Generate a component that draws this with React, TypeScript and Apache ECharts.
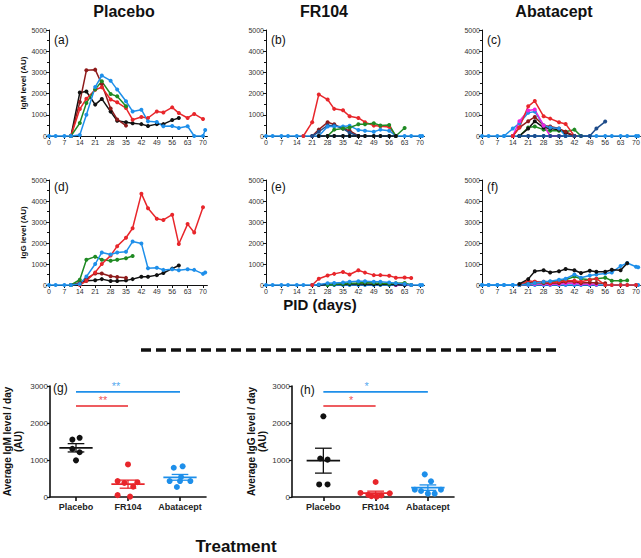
import React, { useEffect, useRef } from "react";
import * as echarts from "echarts";

const FONT = '"Liberation Sans", Arial, Helvetica, sans-serif';
const _ = null;

// sampling days (PID)
const DAYS = [0, 3, 7, 10, 14, 17, 21, 24, 28, 31, 35, 38, 42, 45, 49, 52, 56, 59, 63, 66, 70, 71];
const TICK_DAYS = [0, 7, 14, 21, 28, 35, 42, 49, 56, 63, 70];
const ZERO = DAYS.map(() => 0);

const RED = "#E8262B";
const BLUE = "#1E8FEA";
const GREEN = "#1F8A23";
const BLACK = "#111111";
const DARKRED = "#8E1B1B";
const NAVY = "#1E4C8A";
const MAGENTA = "#EE22DD";

// (a) IgM Placebo
const A_BLACK = [_, _, _, 0, 2050, 2100, 1480, 1750, 1150, 720, 650, 600, 560, 470, 560, 560, 750, 850, _, _, _, _];
const A_DARKRED = [_, _, _, 0, 1600, 3100, 3130, 2450, 1300, 780, 490, _, _, _, _, _, _, _, _, _, _, _];
const A_RED = [_, _, _, 0, 1270, 1760, 2180, 2300, 1720, 1590, 1320, 770, 900, 850, 1160, 1110, 1350, 1080, 850, 1040, 800, _];
const A_GREEN = [_, _, _, 0, 610, 1560, 2200, 2580, 1980, 1870, 1400, _, _, _, _, _, _, _, _, _, _, _];
const A_BLUE = [0, 0, 0, 0, 50, 1000, 2310, 2850, 2610, 2190, 1640, 1160, 1240, 690, 660, 460, 470, 380, 460, 0, 0, 280];

// (b) IgM FR104
const B_RED = [_, _, _, _, _, 0, 650, 1960, 1720, 1280, 1210, 930, 850, 650, 490, 460, 430, 0, _, _, _, _];
const B_DARKRED = [_, _, _, _, _, _, 0, 300, 650, 550, 350, 250, 0, _, _, _, _, _, _, _, _, _];
const B_NAVY = [_, _, _, _, _, _, 0, 200, 500, 500, 350, 150, 0, _, _, _, _, _, _, _, _, _];
const B_BLUE = [_, _, _, _, _, _, _, 0, 450, 450, 450, 480, 280, 250, 200, 300, 250, 0, _, _, _, _];
const B_GREEN = [_, _, _, _, _, _, _, _, 0, 300, 350, 400, 550, 550, 600, 500, 520, 0, 380, _, _, _];
const B_BLACK = [_, _, _, _, _, _, _, 0, 0, 0, 0, 0, 0, 0, 0, 0, 0, 0, _, _, _, _];

// (c) IgM Abatacept
const C_RED = [_, _, _, _, 0, 400, 1400, 1650, 930, 820, 650, 570, 0, _, _, _, _, _, _, _, _, _];
const C_MAGENTA = [_, _, _, _, 0, 700, 1200, 1250, 500, 0, 0, _, _, _, _, _, _, _, _, _, _, _];
const C_BLUE = [_, _, _, 0, 350, 600, 1100, 1150, 500, 400, 350, 0, _, _, _, _, _, _, _, _, _, _];
const C_DARKRED = [_, _, _, _, 0, 400, 700, 900, 500, 450, 350, 200, 0, _, _, _, _, _, _, _, _, _];
const C_BLACK = [_, _, _, _, _, 0, 350, 700, 400, 350, 300, 150, 0, _, _, _, _, _, _, _, _, _];
const C_GREEN = [_, _, _, _, _, 0, 400, 450, 300, 250, 250, 200, 300, 0, _, _, _, _, _, _, _, _];
const C_NAVY = [_, _, _, _, _, 0, 0, 0, 0, 0, 0, 0, 0, 0, 0, 350, 680, _, _, _, _, _];

// (d) IgG Placebo
const D_BLACK = [_, _, _, 0, 100, 200, 230, 280, 190, 190, 220, 280, 390, 390, 470, 570, 780, 930, _, _, _, _];
const D_DARKRED = [_, _, _, 0, 100, 300, 550, 550, 420, 380, 340, _, _, _, _, _, _, _, _, _, _, _];
const D_GREEN = [_, _, _, 0, 250, 1200, 1350, 1200, 1150, 1200, 1270, 1380, _, _, _, _, _, _, _, _, _, _];
const D_RED = [_, _, _, _, 0, 200, 600, 1000, 1400, 1850, 2250, 2700, 4350, 3650, 3150, 3100, 3350, 1950, 2900, 2500, 3700, _];
const D_BLUE = [0, 0, 0, 0, 50, 400, 1000, 1550, 1450, 1550, 1580, 2070, 1980, 800, 820, 720, 750, 700, 750, 720, 530, 600];

// (e) IgG FR104
const E_RED = [_, _, _, _, _, _, 0, 300, 450, 530, 620, 500, 700, 590, 470, 470, 440, 350, 360, 330, _, _];
const E_BLUE = [_, _, _, _, _, _, 0, 20, 80, 100, 120, 150, 180, 180, 150, 150, 120, 80, 50, 0, _, _];
const E_GREEN = [_, _, _, _, _, _, _, _, 0, 30, 60, 80, 100, 120, 100, 80, 60, 80, 100, 0, _, _];
const E_BLACK = [_, _, _, _, _, _, _, 0, 20, 30, 40, 50, 50, 50, 40, 40, 30, 20, 0, _, _, _];
const E_MAGENTA = [_, _, _, _, _, _, _, _, _, _, _, _, _, _, _, _, _, 0, 40, 0, _, _];

// (f) IgG Abatacept
const F_RED = [_, _, _, _, _, 0, 200, 150, 150, 100, 150, 200, 200, 150, 250, 300, 0, 0, 0, 0, 0, _];
const F_GREEN = [_, _, _, _, _, 0, 50, 100, 120, 150, 200, 250, 400, 300, 250, 300, 350, 200, 200, 220, _, _];
const F_DARKRED = [_, _, _, _, _, 0, 100, 150, 100, 80, 100, 150, 150, 100, 120, 100, 80, _, _, _, _, _];
const F_MAGENTA = [_, _, _, _, _, 0, 30, 50, 50, 30, 50, 80, 80, 50, 50, 30, _, _, _, _, _, _];
const F_BLUE = [0, 0, 0, 0, 0, 0, 50, 100, 150, 180, 250, 300, 500, 350, 450, 500, 550, 600, 900, 1050, 870, 850];
const F_BLACK = [_, _, _, _, _, 50, 280, 650, 700, 600, 650, 760, 700, 570, 680, 630, 630, 730, 700, 1040, _, _];

// (g) average IgM / day, (h) average IgG / day
const GROUPS = ["Placebo", "FR104", "Abatacept"];
const G_PLACEBO = [1550, 1600, 1300, 1210, 990];
const G_FR104 = [880, 430, 400, 380, 280, 50, 10];
const G_ABATACEPT = [830, 790, 540, 430, 430, 430, 270];
const H_PLACEBO = [2180, 1040, 1010, 340, 340];
const H_FR104 = [405, 110, 100, 60, 40, 20, 10];
const H_ABATACEPT = [612, 423, 198, 162, 198, 90, 90];

// horizontal jitter of the dots (in category units)
const J_G_PLACEBO = [-0.07, 0.07, -0.07, 0.07, 0];
const J_G_FR104 = [0, -0.2, 0.18, -0.07, 0.1, -0.2, 0.04];
const J_G_ABATACEPT = [0.05, -0.12, 0.02, -0.2, 0.0, 0.2, -0.06];
const J_H_PLACEBO = [0, -0.06, 0.08, -0.08, 0.08];
const J_H_FR104 = [0, -0.29, 0.27, -0.14, 0.11, -0.08, 0.02];
const J_H_ABATACEPT = [-0.06, 0.06, -0.25, -0.13, 0.25, 0, 0.13];

// significance bars
const SIG_BLUE_Y = 2840;
const SIG_RED_Y = 2460;
const SIG_G = ["**", "**"];
const SIG_H = ["*", "*"];

const mean = (a: number[]) => a.reduce((s, v) => s + v, 0) / a.length;
const sem = (a: number[]) => {
  const m = mean(a);
  const sd = Math.sqrt(a.reduce((s, v) => s + (v - m) * (v - m), 0) / (a.length - 1));
  return sd / Math.sqrt(a.length);
};

const plain = (v: number) => String(v);

export default function App() {
  const ref = useRef<HTMLDivElement>(null);

  useEffect(() => {
    if (!ref.current) return;
    const chart = echarts.init(ref.current, undefined, { renderer: "svg" });

    const colLeft = [49, 266, 482];
    const rowTop = [30, 180];
    const rowH = [106, 105];
    const grids: any[] = [];
    const xAxes: any[] = [];
    const yAxes: any[] = [];
    const series: any[] = [];

    for (let r = 0; r < 2; r++) {
      for (let c = 0; c < 3; c++) {
        const i = r * 3 + c;
        grids.push({ left: colLeft[c], top: rowTop[r], width: 158.4, height: rowH[r], outerBoundsMode: "none" });
        xAxes.push({
          gridIndex: i,
          type: "value",
          min: 0,
          max: 72,
          axisLine: { show: true, onZero: false, lineStyle: { color: BLACK, width: 1 } },
          axisTick: { show: true, length: 3, customValues: TICK_DAYS, lineStyle: { color: BLACK } },
          axisLabel: { customValues: TICK_DAYS, formatter: plain, fontSize: 7, color: "#333", margin: 3, fontFamily: FONT },
          splitLine: { show: false },
        });
        yAxes.push({
          gridIndex: i,
          type: "value",
          min: 0,
          max: 5000,
          interval: 1000,
          name: c === 0 ? (r === 0 ? "IgM level (AU)" : "IgG level (AU)") : "",
          nameLocation: "middle",
          nameGap: 22,
          nameTextStyle: { fontSize: 8, fontWeight: "bold", color: BLACK, fontFamily: FONT },
          axisLine: { show: true, lineStyle: { color: BLACK, width: 1 } },
          axisTick: { show: true, length: 3, lineStyle: { color: BLACK } },
          minorTick: { show: true, splitNumber: 2, length: 2, lineStyle: { color: BLACK } },
          axisLabel: { formatter: plain, fontSize: 7, color: "#333", margin: 2, fontFamily: FONT },
          splitLine: { show: false },
          minorSplitLine: { show: false },
        });
      }
    }

    const addLine = (i: number, vals: (number | null)[], color: string) => {
      const data: number[][] = [];
      vals.forEach((v, k) => {
        if (v !== null) data.push([DAYS[k], v]);
      });
      series.push({
        type: "line",
        xAxisIndex: i,
        yAxisIndex: i,
        data,
        symbol: "circle",
        symbolSize: 4,
        showSymbol: true,
        lineStyle: { color, width: 1.5 },
        itemStyle: { color },
        clip: false,
      });
    };

    // (a)
    addLine(0, A_BLACK, BLACK);
    addLine(0, A_DARKRED, DARKRED);
    addLine(0, A_RED, RED);
    addLine(0, A_GREEN, GREEN);
    addLine(0, A_BLUE, BLUE);
    // (b)
    addLine(1, ZERO, BLUE);
    addLine(1, B_RED, RED);
    addLine(1, B_DARKRED, DARKRED);
    addLine(1, B_NAVY, NAVY);
    addLine(1, B_BLUE, BLUE);
    addLine(1, B_GREEN, GREEN);
    addLine(1, B_BLACK, BLACK);
    // (c)
    addLine(2, ZERO, BLUE);
    addLine(2, C_GREEN, GREEN);
    addLine(2, C_BLACK, BLACK);
    addLine(2, C_DARKRED, DARKRED);
    addLine(2, C_BLUE, BLUE);
    addLine(2, C_MAGENTA, MAGENTA);
    addLine(2, C_RED, RED);
    addLine(2, C_NAVY, NAVY);
    // (d)
    addLine(3, D_BLACK, BLACK);
    addLine(3, D_DARKRED, DARKRED);
    addLine(3, D_GREEN, GREEN);
    addLine(3, D_RED, RED);
    addLine(3, D_BLUE, BLUE);
    // (e)
    addLine(4, ZERO, BLUE);
    addLine(4, E_MAGENTA, MAGENTA);
    addLine(4, E_BLACK, BLACK);
    addLine(4, E_GREEN, GREEN);
    addLine(4, E_BLUE, BLUE);
    addLine(4, E_RED, RED);
    // (f)
    addLine(5, ZERO, BLUE);
    addLine(5, F_MAGENTA, MAGENTA);
    addLine(5, F_DARKRED, DARKRED);
    addLine(5, F_GREEN, GREEN);
    addLine(5, F_RED, RED);
    addLine(5, F_BLUE, BLUE);
    addLine(5, F_BLACK, BLACK);

    // bottom panels
    const bottom = [
      { left: 50, width: 156, min: 0.5, name: "Average IgM level / day\n(AU)", gap: 26 },
      { left: 292, width: 162, min: 0.4, name: "Average IgG level / day\n(AU)", gap: 14 },
    ];
    bottom.forEach((b, k) => {
      const i = 6 + k;
      grids.push({ left: b.left, top: 386, width: b.width, height: 111, outerBoundsMode: "none" });
      xAxes.push({
        gridIndex: i,
        type: "value",
        min: b.min,
        max: 3.5,
        axisLine: { show: true, onZero: false, lineStyle: { color: BLACK, width: 1.6 } },
        axisTick: { show: true, length: 4, customValues: [1, 2, 3], lineStyle: { color: BLACK, width: 1.6 } },
        axisLabel: {
          customValues: [1, 2, 3],
          formatter: (v: number) => GROUPS[Math.round(v) - 1] || "",
          fontSize: 9,
          fontWeight: "bold",
          color: "#222",
          margin: 5,
          fontFamily: FONT,
        },
        splitLine: { show: false },
      });
      yAxes.push({
        gridIndex: i,
        type: "value",
        min: 0,
        max: 3000,
        interval: 1000,
        name: b.name,
        nameLocation: "middle",
        nameGap: b.gap,
        nameTextStyle: { fontSize: 10, fontWeight: "bold", color: BLACK, fontFamily: FONT, lineHeight: 11 },
        axisLine: { show: true, lineStyle: { color: BLACK, width: 1.6 } },
        axisTick: { show: true, length: 3, lineStyle: { color: BLACK, width: 1.2 } },
        axisLabel: { formatter: plain, fontSize: 8, color: "#333", margin: 2, fontFamily: FONT },
        splitLine: { show: false },
      });
    });

    const dots = (i: number, c: number, vals: number[], jit: number[], color: string) => {
      series.push({
        type: "scatter",
        xAxisIndex: i,
        yAxisIndex: i,
        data: vals.map((v, k) => [c + jit[k], v]),
        symbolSize: 6,
        itemStyle: { color, opacity: 1 },
        z: 3,
      });
    };
    const groupsG = [
      [G_PLACEBO, J_G_PLACEBO, BLACK],
      [G_FR104, J_G_FR104, RED],
      [G_ABATACEPT, J_G_ABATACEPT, BLUE],
    ] as const;
    const groupsH = [
      [H_PLACEBO, J_H_PLACEBO, BLACK],
      [H_FR104, J_H_FR104, RED],
      [H_ABATACEPT, J_H_ABATACEPT, BLUE],
    ] as const;

    [groupsG, groupsH].forEach((gs, k) => {
      const i = 6 + k;
      gs.forEach((g, idx) => dots(i, idx + 1, g[0] as number[], g[1] as number[], g[2] as string));
      series.push({
        type: "custom",
        xAxisIndex: i,
        yAxisIndex: i,
        z: 4,
        data: gs.map((g, idx) => ({
          value: [idx + 1, mean(g[0] as number[]), sem(g[0] as number[])],
          itemStyle: { color: g[2] },
        })),
        renderItem: (params: any, api: any) => {
          const c = api.value(0);
          const m = api.value(1);
          const s = api.value(2);
          const color = api.visual("color");
          const P = (x: number, y: number) => api.coord([x, y]);
          const seg = (a: number[], b2: number[], w: number) => ({
            type: "line",
            shape: { x1: a[0], y1: a[1], x2: b2[0], y2: b2[1] },
            style: { stroke: color, lineWidth: w },
          });
          return {
            type: "group",
            children: [
              seg(P(c - 0.32, m), P(c + 0.32, m), 1.8),
              seg(P(c, m - s), P(c, m + s), 1.3),
              seg(P(c - 0.16, m + s), P(c + 0.16, m + s), 1.3),
              seg(P(c - 0.16, m - s), P(c + 0.16, m - s), 1.3),
            ],
          };
        },
      });
      // significance bars
      series.push({
        type: "line",
        xAxisIndex: i,
        yAxisIndex: i,
        data: [[1, SIG_BLUE_Y], [3, SIG_BLUE_Y]],
        symbol: "none",
        lineStyle: { color: BLUE, width: 1.6 },
      });
      series.push({
        type: "line",
        xAxisIndex: i,
        yAxisIndex: i,
        data: [[1, SIG_RED_Y], [2, SIG_RED_Y]],
        symbol: "none",
        lineStyle: { color: RED, width: 1.6 },
      });
      const stars = k === 0 ? SIG_G : SIG_H;
      const sx = k === 0 ? [1.77, 1.52] : [1.83, 1.53];
      [
        [sx[0], SIG_BLUE_Y, stars[0], BLUE],
        [sx[1], SIG_RED_Y, stars[1], RED],
      ].forEach((s) => {
        series.push({
          type: "scatter",
          xAxisIndex: i,
          yAxisIndex: i,
          data: [[s[0], s[1]]],
          symbolSize: 1,
          itemStyle: { color: "rgba(0,0,0,0)" },
          label: {
            show: true,
            position: "top",
            distance: 0,
            formatter: s[2] as string,
            color: s[3] as string,
            fontSize: 11,
            fontFamily: FONT,
          },
          clip: false,
        });
      });
    });

    const txt = (text: string, x: number, y: number, size: number, weight = "normal", align = "center") => ({
      type: "text",
      x,
      y,
      style: {
        text,
        fill: BLACK,
        fontSize: size,
        fontWeight: weight,
        fontFamily: FONT,
        align,
        textAlign: align,
        verticalAlign: "middle",
        textVerticalAlign: "middle",
      },
    });

    const graphic: any[] = [
      txt("Placebo", 124, 11, 16, "bold"),
      txt("FR104", 324, 11, 16, "bold"),
      txt("Abatacept", 554, 11, 16, "bold"),
      txt("(a)", 54, 40, 12, "normal", "left"),
      txt("(b)", 271, 40, 12, "normal", "left"),
      txt("(c)", 487, 40, 12, "normal", "left"),
      txt("(d)", 54, 187, 12, "normal", "left"),
      txt("(e)", 271, 187, 12, "normal", "left"),
      txt("(f)", 487, 187, 12, "normal", "left"),
      txt("(g)", 53, 388, 12, "normal", "left"),
      txt("(h)", 300, 390, 12, "normal", "left"),
      txt("PID (days)", 320, 304, 15, "bold"),
      txt("Treatment", 236, 546, 17, "bold"),
      {
        type: "line",
        shape: { x1: 141, y1: 350, x2: 558, y2: 350 },
        style: { stroke: BLACK, lineWidth: 3.5, lineDash: [10, 5] },
      },
    ];

    chart.setOption({
      animation: false,
      backgroundColor: "#ffffff",
      grid: grids,
      xAxis: xAxes,
      yAxis: yAxes,
      series,
      graphic,
    });

    return () => chart.dispose();
  }, []);

  return (
    <div
      ref={ref}
      style={{ position: "absolute", left: 0, top: 0, width: 641, height: 558, background: "#fff" }}
    />
  );
}
